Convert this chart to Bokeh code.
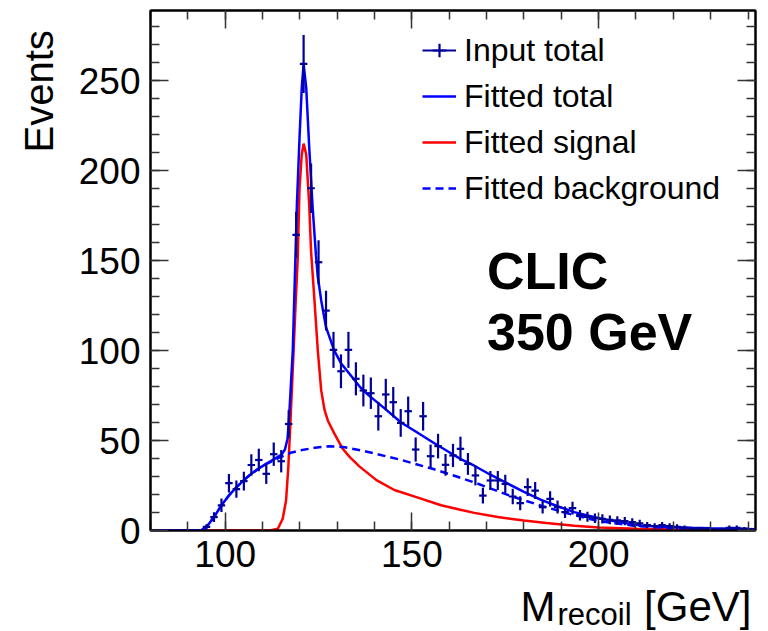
import numpy as np
from bokeh.plotting import figure
from bokeh.layouts import column, row
from bokeh.models import (Range1d, LinearAxis, SingleIntervalTicker, Label,
                          Legend, LegendItem, ColumnDataSource, CustomJSTickFormatter)
from bokeh.embed import file_html
from bokeh.resources import INLINE

# ---------------- data ----------------
bin_centers = [95, 97, 99, 101, 103, 105, 107, 109, 111, 113, 115, 117, 119, 121,
               123, 125, 127, 129, 131, 133, 135, 137, 139, 141, 143, 145, 147, 149,
               151, 153, 155, 157, 159, 161, 163, 165, 167, 169, 171, 173, 175, 177,
               179, 181, 183, 185, 187, 189, 191, 193, 195, 197, 199, 201, 203, 205,
               207, 209, 211, 213, 215, 217, 219, 221, 223, 225, 227, 229, 231, 233,
               235, 237, 239, 241]
events = [2.0, 7.4, 14.0, 26.3, 23.0, 27.4, 36.4, 39.2, 31.5, 42.4, 38.5, 59.2, 164.3, 259.3,
          190.2, 149.1, 122.2, 100.4, 88.5, 100.4, 84.3, 77.8, 76.3, 63.5, 75.6, 71.3, 59.8, 66.3,
          45.0, 63.5, 41.3, 46.9, 36.5, 41.7, 45.4, 37.0, 30.6, 19.4, 27.8, 27.8, 25.9, 18.9,
          15.2, 24.1, 22.2, 13.0, 17.6, 13.0, 10.2, 12.4, 8.5, 7.6, 6.8, 6.5, 5.9, 5.6,
          5.2, 4.6, 4.0, 3.0, 2.5, 3.0, 2.5, 2.0, 1.5, 1.0, 1.0, 1.0, 0.5, 0.5,
          1.5, 1.5, 1.0, 0.5]
bin_half_width = 1.0

total_x = [80, 93.5, 95, 97, 99, 101, 103, 105, 107, 109, 111, 113, 115, 116, 116.7, 117.2,
           117.7, 118.1, 118.7, 119.2, 119.9, 120.5, 121, 121.7, 122.5, 123.4, 124.3, 124.8,
           125.7, 127, 129.2, 131, 133.7, 136, 138.2, 142.6, 147.1, 151, 156, 160, 163.2,
           166.7, 171, 175.7, 180, 184.6, 189, 193.5, 197, 200.7, 205, 211.4, 218, 225, 230, 242]
total_y = [0, 0, 2, 7.5, 14, 19.5, 24, 28, 31.5, 34.5, 37, 39.5, 42, 45, 51, 66,
           85, 100, 144, 181, 218, 246, 259, 246, 213, 180, 153, 141,
           128, 113, 100, 93, 86, 80, 75.5, 68, 60, 55, 48.5, 43.5, 39.5,
           36, 31, 26, 21.5, 17, 13.5, 10.2, 8.3, 6.5, 4.8, 2.8, 2, 1.5, 1.2, 0.7]

signal_x = [80, 112, 114.1, 115.4, 116.3, 116.9, 117.4, 117.9, 118.4, 118.9, 119.4, 119.9,
            120.5, 121, 121.7, 122.5, 123, 123.9, 124.8, 125.7, 126.6, 127.5, 129.2, 131.4,
            133.5, 136, 140.5, 145.3, 151.6, 157.8, 163, 166.7, 173, 180, 186, 193.5, 200,
            210, 220, 230, 242]
signal_y = [0, 0, 1, 6.5, 16.7, 35, 57, 80, 104, 128, 150, 190,
            209, 215, 209, 181, 155, 128, 100, 78, 67, 61, 54, 45.6,
            40.5, 35.5, 28, 22.5, 18.3, 14, 11.5, 9.8, 7.5, 5.5, 4.2, 2.6, 1.7,
            1.0, 0.6, 0.4, 0.2]

bkg_x = [80, 93.5, 95, 97, 99, 101, 103, 105, 107, 109, 111, 113, 115, 117.6, 120, 124, 128,
         132, 138, 147, 156, 162, 167, 176, 185, 193.5, 200, 210, 220, 230, 242]
bkg_y = [0, 0, 2, 7.5, 14, 19.5, 24, 28, 31.5, 34.5, 37, 39, 41, 43.2, 44.5, 46, 46.8,
         46.3, 43.8, 39.3, 34, 30, 26.5, 19.5, 13.5, 8.5, 5.2, 2.5, 1.2, 0.7, 0.4]

x_title_main = "M"
x_title_sub = "recoil"
x_title_unit = "[GeV]"
y_title = "Events"
legend_labels = ["Input total", "Fitted total", "Fitted signal", "Fitted background"]
energy_text = ["CLIC", "350 GeV"]

# ---------------- styling ----------------
FONT = "Liberation Sans"
DATA_COLOR = "#000099"
TOTAL_COLOR = "#0000ff"
SIG_COLOR = "#ff0000"

W_LEFT = 70
H_MAIN = 582
W_TOTAL = 768
H_TOTAL = 631


def blank_fig(w, h):
    f = figure(width=w, height=h, x_range=Range1d(0, w), y_range=Range1d(0, h),
               output_backend="svg", toolbar_location=None,
               x_axis_location=None, y_axis_location=None, min_border=0)
    f.outline_line_color = None
    f.grid.visible = False
    f.background_fill_color = "white"
    f.border_fill_color = "white"
    return f


p = figure(width=W_TOTAL - W_LEFT, height=H_MAIN, x_range=Range1d(80, 242), y_range=Range1d(0, 289),
           output_backend="svg", toolbar_location=None,
           min_border_left=150 - W_LEFT, min_border_right=13, min_border_top=10,
           min_border_bottom=H_MAIN - 530)
p.grid.visible = False
p.outline_line_color = "black"
p.outline_line_width = 2
p.background_fill_color = "white"
p.border_fill_color = "white"


def style_axis(ax, labels=True):
    ax.ticker = SingleIntervalTicker(interval=50, num_minor_ticks=5)
    ax.major_tick_in = 18
    ax.major_tick_out = 0
    ax.minor_tick_in = 9
    ax.minor_tick_out = 0
    ax.major_tick_line_color = "#333333"
    ax.minor_tick_line_color = "#333333"
    ax.major_tick_line_width = 1.5
    ax.minor_tick_line_width = 1.5
    ax.axis_line_color = "black"
    ax.axis_line_width = 2
    if labels:
        ax.major_label_text_font = FONT
        ax.major_label_text_font_size = "37px"
        ax.major_label_text_color = "black"
        ax.major_label_standoff = 10
    else:
        ax.formatter = CustomJSTickFormatter(code="return ''")
        ax.major_label_text_font_size = "1px"
        ax.major_label_standoff = 0


style_axis(p.xaxis[0])
style_axis(p.yaxis[0])

top_ax = LinearAxis()
style_axis(top_ax, labels=False)
p.add_layout(top_ax, "above")
right_ax = LinearAxis()
style_axis(right_ax, labels=False)
p.add_layout(right_ax, "right")

# ---------------- curves ----------------
r_sig = p.line(signal_x, signal_y, line_color=SIG_COLOR, line_width=2.5)
r_bkg = p.line(bkg_x, bkg_y, line_color=TOTAL_COLOR, line_width=2.5, line_dash="8 5")
r_tot = p.line(total_x, total_y, line_color=TOTAL_COLOR, line_width=2.5)

# ---------------- data points with errors ----------------
ev = np.array(events)
bc = np.array(bin_centers, dtype=float)
err = np.sqrt(ev)
src = ColumnDataSource(dict(x=bc, y=ev, lo=ev - err, hi=ev + err,
                            left=bc - bin_half_width, right=bc + bin_half_width))
r_v = p.segment(x0="x", y0="lo", x1="x", y1="hi", source=src, line_color=DATA_COLOR, line_width=2.2)
r_h = p.segment(x0="left", y0="y", x1="right", y1="y", source=src, line_color=DATA_COLOR, line_width=2.2)
r_cross = p.scatter(x="x", y="y", source=src, marker="cross", size=0,
                    line_color=DATA_COLOR, line_width=2.2)

# ---------------- legend ----------------
legend = Legend(items=[
    LegendItem(label=legend_labels[0], renderers=[r_h, r_cross]),
    LegendItem(label=legend_labels[1], renderers=[r_tot]),
    LegendItem(label=legend_labels[2], renderers=[r_sig]),
    LegendItem(label=legend_labels[3], renderers=[r_bkg]),
], location=(272, 322))
legend.label_text_font = FONT
legend.label_text_font_size = "32px"
legend.label_text_color = "black"
legend.glyph_width = 34
legend.glyph_height = 40
legend.spacing = 6
legend.label_standoff = 8
legend.padding = 0
legend.margin = 0
legend.border_line_color = None
legend.background_fill_alpha = 0
p.add_layout(legend)

# ---------------- texts ----------------
p.add_layout(Label(x=170.1, y=128.0, text=energy_text[0], text_font=FONT, text_font_style="bold",
                   text_font_size="52px", text_color="black"))
p.add_layout(Label(x=170.1, y=94.0, text=energy_text[1], text_font=FONT, text_font_style="bold",
                   text_font_size="52px", text_color="black"))

# y title strip (left)
left = blank_fig(W_LEFT, H_MAIN)
left.add_layout(Label(x=60.5, y=H_MAIN - 22, text=y_title, angle=np.pi / 2, text_align="right",
                      text_baseline="bottom", text_font=FONT, text_font_size="40px",
                      text_color="black"))

# x title strip (bottom)
H_BOT = H_TOTAL - H_MAIN
bottom = blank_fig(W_TOTAL, H_BOT)
bottom.add_layout(Label(x=520, y=1.5, text=x_title_main, text_align="left",
                        text_baseline="bottom", text_font=FONT, text_font_size="42px",
                        text_color="black"))
bottom.add_layout(Label(x=557, y=0, text=x_title_sub, text_align="left",
                        text_baseline="bottom", text_font=FONT, text_font_size="31px",
                        text_color="black"))
bottom.add_layout(Label(x=751, y=1.5, text=x_title_unit, text_align="right",
                        text_baseline="bottom", text_font=FONT, text_font_size="42px",
                        text_color="black"))

layout = column(row(left, p, spacing=0), bottom, spacing=0)

open("out.html", "w").write(file_html(layout, INLINE))
